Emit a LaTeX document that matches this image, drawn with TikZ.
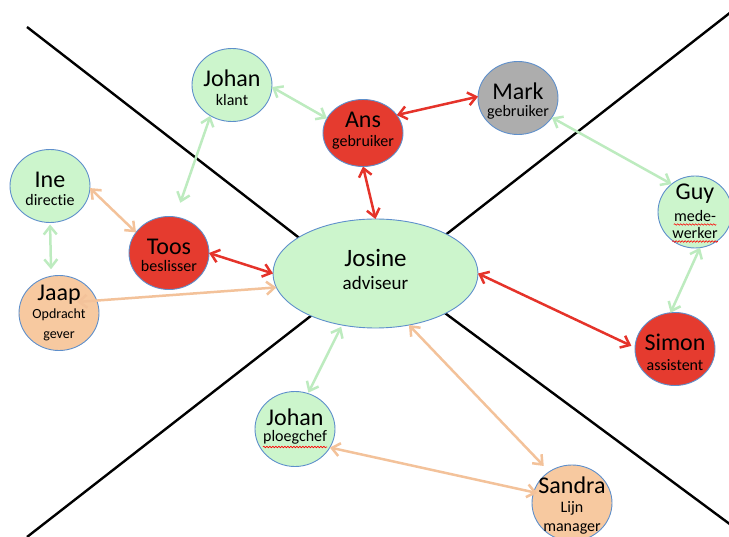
\documentclass[tikz,border=0pt]{standalone}
\usepackage{fontspec}
\setmainfont[Ligatures=NoCommon]{Carlito}
\usetikzlibrary{shapes.geometric,arrows.meta,decorations.pathmorphing}
\definecolor{pgreen}{HTML}{CCF5CC}
\definecolor{pred}{HTML}{E53B2F}
\definecolor{pgray}{HTML}{ADADAD}
\definecolor{ppeach}{HTML}{F7C9A0}
\definecolor{pborder}{HTML}{5E8FCB}
\definecolor{agreen}{HTML}{BDEBBF}
\definecolor{aorange}{HTML}{F3C29A}
\definecolor{ared}{HTML}{E5332A}
\begin{document}
\begin{tikzpicture}[x=1pt,y=-1pt,
  xline/.style={line width=2.4pt, black},
  person/.style={ellipse, draw=pborder, line width=0.9pt, minimum width=80pt, minimum height=73pt, inner sep=0pt, outer sep=0pt},
  pgn/.style={person, fill=pgreen},
  prd/.style={person, fill=pred},
  pgy/.style={person, fill=pgray},
  ppc/.style={person, fill=ppeach},
  nm/.style={font=\fontsize{24}{28}\selectfont, text height=15pt, text depth=0pt, inner sep=0pt},
  rl/.style={font=\fontsize{16}{19}\selectfont, text height=8pt, text depth=0pt, inner sep=0pt},
  rls/.style={font=\fontsize{14}{17}\selectfont, text height=7pt, text depth=0pt, inner sep=0pt},
  conn/.style={line width=2.5pt, {Straight Barb[length=8pt,width=13pt]}-{Straight Barb[length=8pt,width=13pt]}},
  cg/.style={conn, agreen},
  co/.style={conn, aorange},
  cr/.style={conn, ared},
  squig/.style={draw=red, line width=0.6pt, decorate, decoration={snake, amplitude=0.8pt, segment length=3pt}}
]
\useasboundingbox (0,0) rectangle (729,537);
\clip (0,0) rectangle (729,537);

% the four black quadrant lines
\draw[xline] (27,27) -- (320,254);
\draw[xline] (731,12) -- (430,247);
\draw[xline] (27,537) -- (330,301);
\draw[xline] (731,525) -- (430,302);

% central node
\node[pgn, minimum width=205pt, minimum height=109pt,
  label={[nm, name=josine-n, font=\fontsize{25}{29}\selectfont, yshift=14pt]center:Josine},
  label={[rl, name=josine-r, font=\fontsize{19}{22}\selectfont, text height=9.5pt, yshift=-11pt]center:adviseur}] (josine) at (375.5,273.5) {};

% persons
\node[pgn, label={[nm,name=johank-n,yshift=6pt]center:Johan}, label={[rl,name=johank-r,yshift=-17pt]center:klant}] (johank) at (232,85) {};
\node[prd, minimum height=67pt, label={[nm,name=ans-n,yshift=13pt]center:Ans}, label={[rl,name=ans-r,yshift=-10pt]center:gebruiker}] (ans) at (363,133) {};
\node[pgy, label={[nm,name=mark-n,yshift=6pt]center:Mark}, label={[rl,name=mark-r,yshift=-15pt]center:gebruiker}] (mark) at (518,98) {};
\node[pgn, label={[nm,name=ine-n,yshift=6pt]center:Ine}, label={[rl,name=ine-r,yshift=-16pt]center:directie}] (ine) at (50,186) {};
\node[prd, label={[nm,name=toos-n,yshift=6pt]center:Toos}, label={[rl,name=toos-r,yshift=-15pt]center:beslisser}] (toos) at (169,253) {};
\node[ppc, minimum height=75pt, label={[nm,name=jaap-n,yshift=20pt]center:Jaap}, label={[rls,name=jaap-r1,yshift=-2pt]center:Opdracht}, label={[rls,name=jaap-r2,yshift=-22pt]center:gever}] (jaap) at (59,313) {};
\node[pgn, minimum width=74pt, minimum height=72pt, label={[nm,name=guy-n,yshift=20pt]center:Guy}, label={[rl,name=guy-r1,yshift=-6pt]center:mede-}, label={[rl,name=guy-r2,yshift=-23pt]center:werker}] (guy) at (695,212) {};
\node[prd, label={[nm,name=simon-n,yshift=6pt]center:Simon}, label={[rl,name=simon-r,yshift=-18pt]center:assistent}] (simon) at (675,349) {};
\node[pgn, minimum height=75pt, label={[nm,name=ploeg-n,yshift=11pt]center:Johan}, label={[rl,name=ploeg-r,yshift=-9pt]center:ploegchef}] (ploeg) at (295,429) {};
\node[ppc, minimum height=76pt, label={[nm,name=sandra-n,yshift=17pt]center:Sandra}, label={[rl,name=sandra-r1,yshift=-5pt]center:Lijn}, label={[rl,name=sandra-r2,yshift=-25pt]center:manager}] (sandra) at (572,503) {};

% spell-check underlines
\draw[squig] ([yshift=-2.5pt]guy-r1.base west) -- ([yshift=-2.5pt]guy-r1.base east);
\draw[squig] ([yshift=-2.5pt]guy-r2.base west) -- ([yshift=-2.5pt]guy-r2.base east);
\draw[squig] ([yshift=-5pt]ploeg-r.base west) -- ([yshift=-5pt]ploeg-r.base east);

% free ends inside nodes
\coordinate (jaapin) at (77,302);
\coordinate (sandrain) at (537,493);

% connectors
\draw[cg] (johank.-3) -- (ans.158);
\draw[cg, shorten >=15pt] (johank.-125) -- (toos.80);
\draw[cr] (ans.28) -- (mark.178);
\draw[cr] (ans.south) -- (josine.north);
\draw[cg] (mark.-30) -- (guy.130);
\draw[cg] (guy.-82) -- (simon.97);
\draw[cr, shorten >=4pt] (josine.east) -- (simon.178);
\draw[co] (ine.-3) -- (toos.148);
\draw[cg, shorten <=2pt, shorten >=7pt] (ine.south) -- (jaap.102);
\draw[cr] (toos.east) -- (josine.west);
\draw[co] (jaapin) -- (josine.188);
\draw[cg, shorten <=1pt, shorten >=2pt] (ploeg.70) -- (josine.237);
\draw[co, shorten >=8pt] (josine.-57) -- (sandra.126);
\draw[co] (sandrain) -- (ploeg.-28);
\end{tikzpicture}
\end{document}
